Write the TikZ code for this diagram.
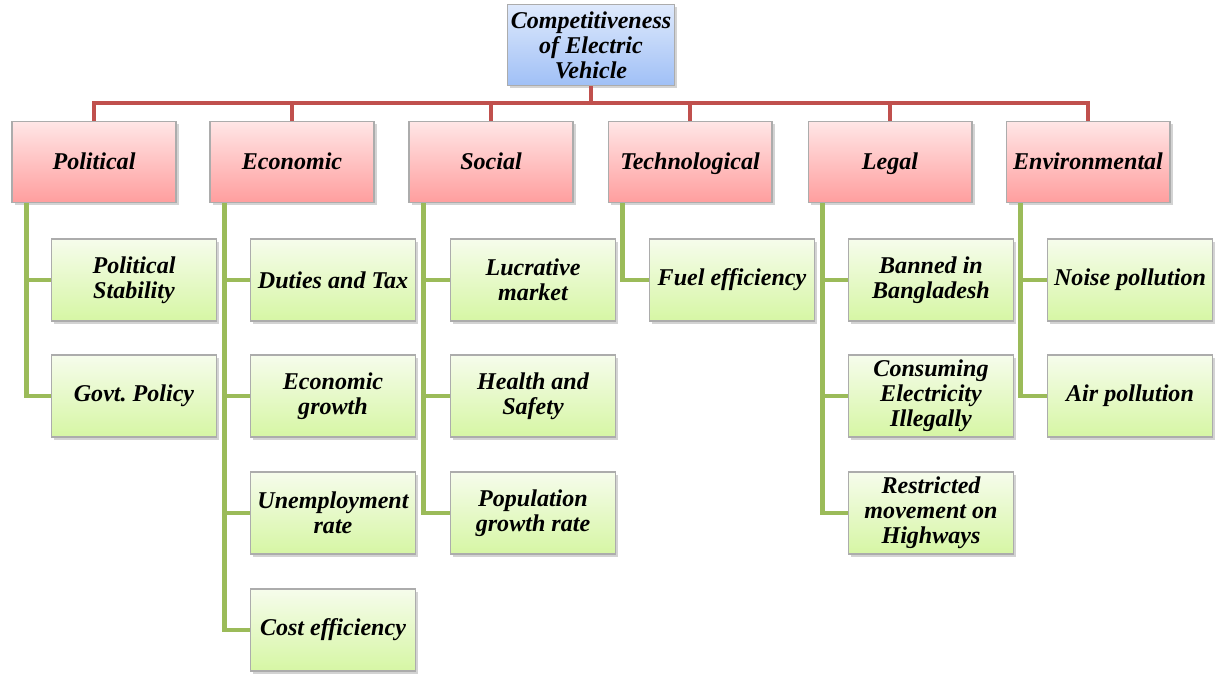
\documentclass[tikz,border=0pt]{standalone}
\usepackage{fontspec}
\setmainfont{Liberation Serif}
\usetikzlibrary{shadows}
\definecolor{redln}{RGB}{192,80,77}
\definecolor{grnln}{RGB}{155,187,89}
\definecolor{goaltop}{RGB}{222,233,252}
\definecolor{goalbot}{RGB}{160,192,246}
\definecolor{cattop}{RGB}{255,230,230}
\definecolor{catbot}{RGB}{255,158,158}
\definecolor{leaftop}{RGB}{246,252,236}
\definecolor{leafbot}{RGB}{214,246,164}
\tikzset{%
    box/.style={rectangle, draw=gray!65, line width=0.6pt, align=center, inner sep=2pt,
        font=\fontsize{13.7}{14.2}\selectfont\bfseries\itshape,
        drop shadow={shadow xshift=1.5pt, shadow yshift=-1.5pt, opacity=0.35}},
    goal/.style={box, minimum width=3.26cm, minimum height=1.62cm, top color=goaltop, bottom color=goalbot},
    cat/.style={box, minimum width=3.28cm, minimum height=1.62cm, text height=1em, text depth=0.16em,
        top color=cattop, bottom color=catbot},
    leaf/.style={box, minimum width=3.3cm, minimum height=1.64cm, top color=leaftop, bottom color=leafbot},
    rl/.style={draw=redln, line width=2.8pt},
    gl/.style={draw=grnln, line width=2.3pt}
}

\begin{document}
\begin{tikzpicture}[x=0.02cm, y=-0.02cm]
    \useasboundingbox (0,0) rectangle (1222,673);
    \node[goal] (goal) at (591,45) {Competitiveness\\of Electric\\Vehicle};
    \coordinate (hub) at (591,103);

    \node[cat] (pol) at (94,162) {Political};
    \node[cat] (eco) at (292,162) {Economic};
    \node[cat] (soc) at (491,162) {Social};
    \node[cat] (tec) at (690,162) {Technological};
    \node[cat] (leg) at (890,162) {Legal};
    \node[cat] (env) at (1088,162) {Environmental};

    \node[leaf] (pol1) at (134,280) {Political\\Stability};
    \node[leaf] (pol2) at (134,396) {Govt.\ Policy};
    \node[leaf] (eco1) at (333,280) {Duties and Tax};
    \node[leaf] (eco2) at (333,396) {Economic\\growth};
    \node[leaf] (eco3) at (333,513) {Unemployment\\rate};
    \node[leaf] (eco4) at (333,630) {Cost efficiency};
    \node[leaf] (soc1) at (533,280) {Lucrative\\market};
    \node[leaf] (soc2) at (533,396) {Health and\\Safety};
    \node[leaf] (soc3) at (533,513) {Population\\growth rate};
    \node[leaf] (tec1) at (732,280) {Fuel efficiency};
    \node[leaf] (leg1) at (931,280) {Banned in\\Bangladesh};
    \node[leaf] (leg2) at (931,396) {Consuming\\Electricity\\Illegally};
    \node[leaf] (leg3) at (931,513) {Restricted\\movement on\\Highways};
    \node[leaf] (env1) at (1130,280) {Noise pollution};
    \node[leaf] (env2) at (1130,396) {Air pollution};

    \draw[rl] (goal.south) -- (hub);
    \draw[rl] (hub) -| (pol.north);
    \draw[rl] (hub) -| (eco.north);
    \draw[rl] (hub) -| (soc.north);
    \draw[rl] (hub) -| (tec.north);
    \draw[rl] (hub) -| (leg.north);
    \draw[rl] (hub) -| (env.north);

    \draw[gl] ([xshift=0.3cm]pol.south west) |- (pol1.west);
    \draw[gl] ([xshift=0.3cm]pol.south west) |- (pol2.west);
    \draw[gl] ([xshift=0.3cm]eco.south west) |- (eco1.west);
    \draw[gl] ([xshift=0.3cm]eco.south west) |- (eco2.west);
    \draw[gl] ([xshift=0.3cm]eco.south west) |- (eco3.west);
    \draw[gl] ([xshift=0.3cm]eco.south west) |- (eco4.west);
    \draw[gl] ([xshift=0.3cm]soc.south west) |- (soc1.west);
    \draw[gl] ([xshift=0.3cm]soc.south west) |- (soc2.west);
    \draw[gl] ([xshift=0.3cm]soc.south west) |- (soc3.west);
    \draw[gl] ([xshift=0.3cm]tec.south west) |- (tec1.west);
    \draw[gl] ([xshift=0.3cm]leg.south west) |- (leg1.west);
    \draw[gl] ([xshift=0.3cm]leg.south west) |- (leg2.west);
    \draw[gl] ([xshift=0.3cm]leg.south west) |- (leg3.west);
    \draw[gl] ([xshift=0.3cm]env.south west) |- (env1.west);
    \draw[gl] ([xshift=0.3cm]env.south west) |- (env2.west);
\end{tikzpicture}
\end{document}
